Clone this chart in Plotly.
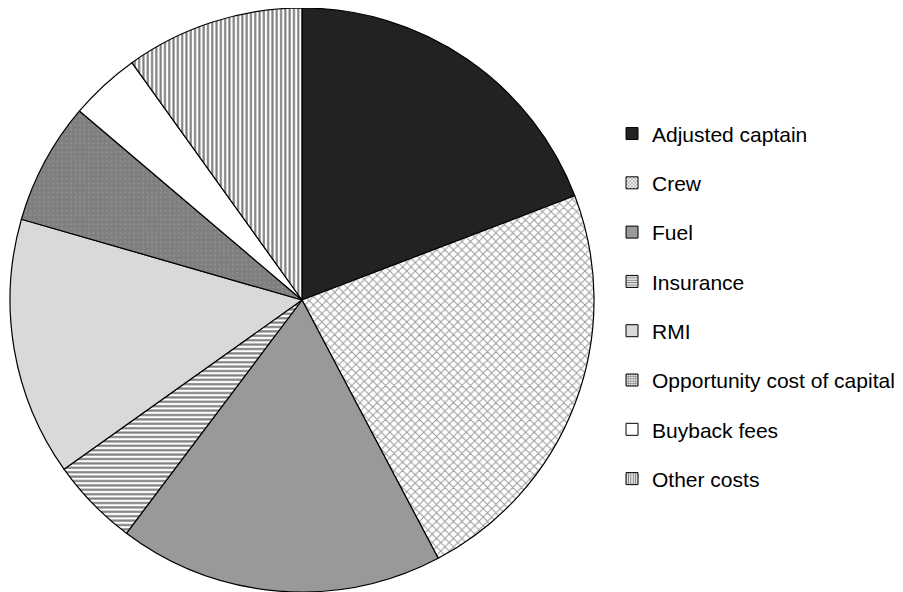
import plotly.graph_objects as go

labels = ["Adjusted captain", "Crew", "Fuel", "Insurance", "RMI",
          "Opportunity cost of capital", "Buyback fees", "Other costs"]
values = [19.2, 23.1, 18.0, 4.9, 14.3, 6.75, 3.9, 9.9]

bg_colors = ["#222222", "#ffffff", "#999999", "#ffffff", "#d9d9d9", "#ffffff", "#ffffff", "#ffffff"]
fg_colors = ["#222222", "#333333", "#999999", "#000000", "#d9d9d9", "#000000", "#ffffff", "#000000"]
shapes = ["", "x", "", "-", "", ".", "", "|"]
sizes = [8, 6, 8, 4.4, 8, 4.5, 8, 4.3]
solidities = [0.3, 0.3, 0.3, 0.5, 0.3, 0.9, 0.3, 0.5]

fig = go.Figure()
fig.add_trace(go.Pie(
    labels=labels, values=values, sort=False, direction="clockwise", rotation=0,
    textinfo="none", hoverinfo="label+percent", showlegend=False,
    marker=dict(colors=bg_colors, line=dict(color="#000000", width=1.2),
                pattern=dict(shape=shapes, fgcolor=fg_colors, bgcolor=bg_colors,
                             size=sizes, solidity=solidities, fillmode="overlay")),
    domain=dict(x=[0.0022, 0.649], y=[0.0135, 1]),
))

for i, lab in enumerate(labels):
    fig.add_trace(go.Bar(
        x=[None], y=[None], name=lab, legendgroup=lab, showlegend=True,
        marker=dict(color=bg_colors[i], line=dict(color="#000000", width=1),
                    pattern=dict(shape=shapes[i], fgcolor=fg_colors[i], bgcolor=bg_colors[i],
                                 size=3 if shapes[i] else 8, solidity=0.5, fillmode="overlay")),
    ))

fig.update_layout(
    width=903, height=592,
    margin=dict(l=0, r=0, t=0, b=0),
    paper_bgcolor="white", plot_bgcolor="white",
    font=dict(family="Arial, Liberation Sans, sans-serif", color="#000000"),
    xaxis=dict(visible=False), yaxis=dict(visible=False),
    legend=dict(x=0.6689, xanchor="left", y=0.496, yanchor="middle",
                font=dict(size=21, color="#000000"), tracegroupgap=19,
                bgcolor="rgba(0,0,0,0)"),
)

fig.write_html("out.html")
